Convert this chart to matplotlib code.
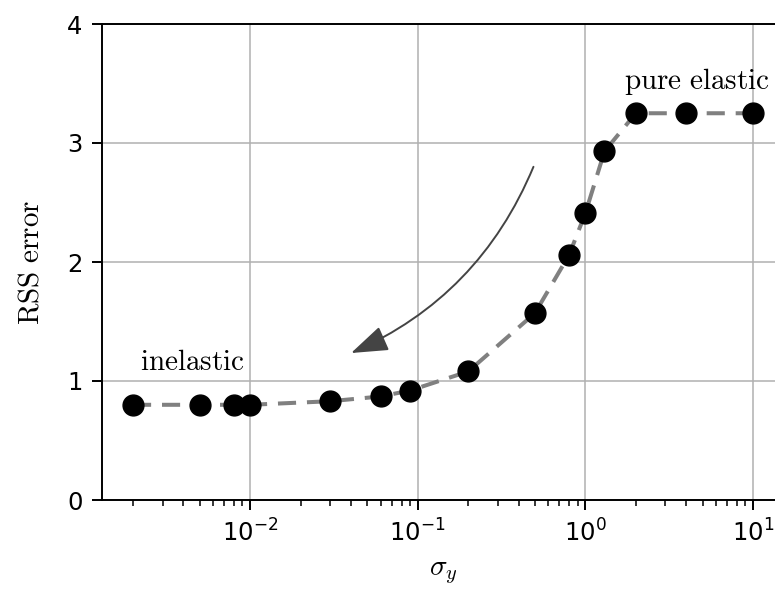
import matplotlib
matplotlib.use("Agg")
import matplotlib.pyplot as plt

plt.rcParams['mathtext.fontset'] = 'cm'

sigma_y = [0.002, 0.005, 0.008, 0.01, 0.03, 0.06, 0.09, 0.2, 0.5, 0.8, 1.0, 1.3, 2.0, 4.0, 10.0]
rss_error = [0.80, 0.80, 0.80, 0.80, 0.83, 0.87, 0.92, 1.08, 1.57, 2.06, 2.41, 2.93, 3.25, 3.25, 3.25]

fig = plt.figure(figsize=(7.75, 5.9), dpi=100)
ax = fig.add_axes([102 / 775, 90 / 590, 682 / 775, 476 / 590])

ax.plot(sigma_y, rss_error, color='gray', linestyle=(0, (4.5, 2.7)), linewidth=2.9, zorder=2)
ax.plot(sigma_y, rss_error, 'o', color='black', markersize=15, zorder=3)

ax.set_xscale('log')
ax.set_ylim(0, 4)
ax.set_yticks([0, 1, 2, 3, 4])
ax.grid(True, color='#b0b0b0', linewidth=1.1)
ax.set_axisbelow(True)

for s in ax.spines.values():
    s.set_linewidth(1.4)
ax.tick_params(labelsize=17.5, width=1.4, length=7, pad=7)
ax.tick_params(which='minor', width=1.1, length=4)

ax.set_xlabel(r'$\sigma_y$', fontsize=21, labelpad=8)
ax.set_ylabel(r'$\mathrm{RSS\ error}$', fontsize=21, labelpad=16)

ax.text(0.0045, 1.16, r'$\mathrm{inelastic}$', fontsize=21, ha='center', va='center')
ax.text(4.6, 3.52, r'$\mathrm{pure\ elastic}$', fontsize=21, ha='center', va='center')

ax.annotate('', xy=(0.040, 1.235), xytext=(0.49, 2.8),
            arrowprops=dict(arrowstyle='-|>,head_length=2.3,head_width=0.8',
                            color='#444444', lw=1.4, shrinkA=0, shrinkB=0,
                            connectionstyle='arc3,rad=-0.2'))

fig.savefig('out.png', dpi=100)
